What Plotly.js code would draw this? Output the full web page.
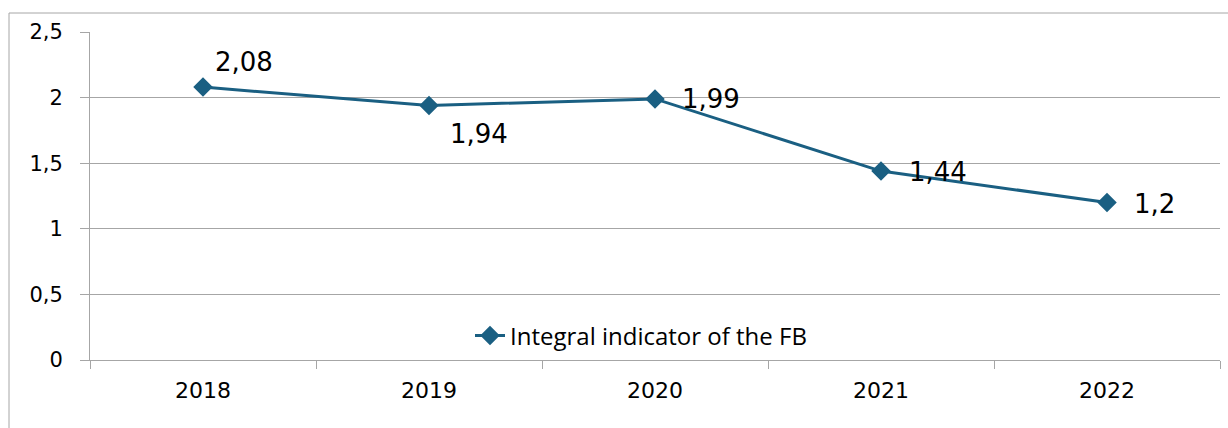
<!DOCTYPE html>
<html>
<head>
<meta charset="utf-8">
<script src="https://cdn.plot.ly/plotly-3.0.1.min.js"></script>
<style>html,body{margin:0;padding:0;background:#fff;}#chart{width:1228px;height:428px;}</style>
</head>
<body>
<div id="chart"></div>
<script>
const years = ['2018', '2019', '2020', '2021', '2022'];
const values = [2.08, 1.94, 1.99, 1.44, 1.2];
const seriesName = 'Integral indicator of the FB';

// label placement offsets (pixels) relative to each point
const labelShiftX = [11, 20, 26, 27, 26];
const labelShiftY = [25, -29, 0, -1, -1];

const W = 1228, H = 428, L = 90, R = 8, T = 32, B = 68;
const pw = W - L - R, ph = H - T - B;
const px = x => (x - L) / pw;
const py = y => (H - B - y) / ph;
const grid = '#a6a6a6';
const lineColor = '#1a5f82';

const trace = {
  x: years,
  y: values,
  type: 'scatter',
  mode: 'lines+markers',
  name: seriesName,
  line: {color: lineColor, width: 3},
  marker: {symbol: 'diamond', size: 15, color: lineColor},
  cliponaxis: false
};

// category axes take annotation positions as category indices
const annotations = years.map((yr, i) => ({
  x: i, y: values[i], xref: 'x', yref: 'y',
  text: String(values[i]).replace('.', ','),
  showarrow: false, xanchor: 'left', yanchor: 'middle',
  xshift: labelShiftX[i], yshift: labelShiftY[i],
  font: {family: 'DejaVu Sans', size: 26, color: '#000'},
  borderpad: 0
}));

const layout = {
  width: W, height: H,
  margin: {l: L, r: R, t: T, b: B, pad: 0},
  paper_bgcolor: '#fff', plot_bgcolor: '#fff',
  separators: ', ',
  showlegend: true,
  legend: {
    x: px(470), y: py(336), xanchor: 'left', yanchor: 'middle',
    font: {family: 'Open Sans', size: 24, color: '#000'},
    bgcolor: 'rgba(0,0,0,0)', itemwidth: 30
  },
  xaxis: {
    type: 'category', range: [-0.5, 4.5],
    showgrid: false, showline: true, linecolor: grid, linewidth: 1,
    ticks: 'outside', ticklen: 8, tickcolor: grid, tickson: 'boundaries',
    tickfont: {family: 'DejaVu Sans', size: 22, color: '#000'},
    ticklabelstandoff: 11, zeroline: false
  },
  yaxis: {
    range: [0, 2.5], dtick: 0.5, tick0: 0,
    showgrid: true, gridcolor: grid, gridwidth: 1,
    showline: true, linecolor: grid, linewidth: 1,
    ticks: 'outside', ticklen: 9, tickcolor: grid,
    tickfont: {family: 'DejaVu Sans', size: 21, color: '#000'},
    ticklabelstandoff: 13, zeroline: false
  },
  annotations: annotations,
  shapes: [
    {type: 'line', xref: 'paper', yref: 'paper', x0: px(9), x1: px(9), y0: py(13), y1: py(430), line: {color: grid, width: 1}},
    {type: 'line', xref: 'paper', yref: 'paper', x0: px(9), x1: px(1230), y0: py(13), y1: py(13), line: {color: grid, width: 1}}
  ]
};

Plotly.newPlot('chart', [trace], layout, {staticPlot: true, displayModeBar: false});
</script>
</body>
</html>
